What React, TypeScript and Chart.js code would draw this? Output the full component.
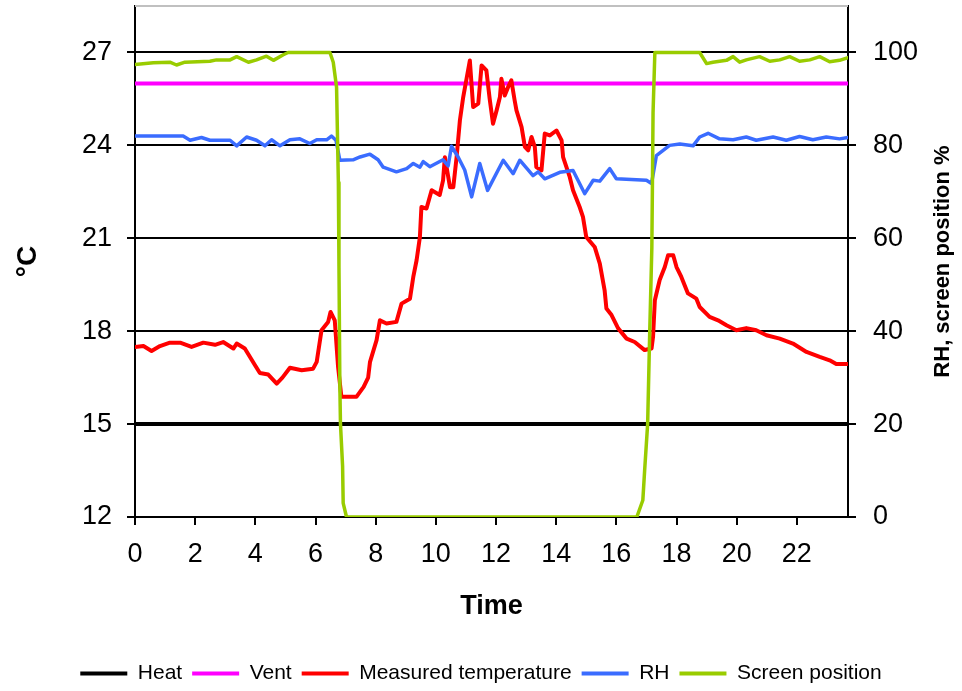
import React, { useEffect, useRef } from "react";
import { Chart, registerables } from "chart.js";

Chart.register(...registerables);

// Set points (constant over the day)
const heatHours = [0, 23.7];
const heatValues = [15, 15];
const ventHours = [0, 23.7];
const ventValues = [26, 26];

// Measured greenhouse temperature, °C
const tempHours = [
  0, 0.28, 0.55, 0.83, 1.16, 1.5, 1.88, 2.27, 2.66, 2.93, 3.27, 3.38, 3.65, 3.99, 4.15, 4.43, 4.71, 4.9,
  5.15, 5.54, 5.92, 6.04, 6.2, 6.42, 6.5, 6.64, 6.75, 6.86, 7.36, 7.6, 7.75, 7.81, 8.03, 8.14, 8.36, 8.69,
  8.86, 9.14, 9.25, 9.36, 9.47, 9.52, 9.69, 9.86, 10.13, 10.24, 10.3, 10.47, 10.58, 10.69, 10.8, 10.91,
  11.13, 11.24, 11.41, 11.52, 11.68, 11.79, 11.9, 12.02, 12.13, 12.18, 12.29, 12.4, 12.51, 12.62, 12.68,
  12.85, 12.96, 13.07, 13.18, 13.29, 13.34, 13.51, 13.62, 13.79, 14.01, 14.18, 14.23, 14.45, 14.56, 14.78,
  14.89, 15.0, 15.28, 15.45, 15.61, 15.67, 15.84, 16.06, 16.34, 16.61, 16.94, 17.17, 17.22, 17.28, 17.44,
  17.61, 17.72, 17.89, 18.0, 18.16, 18.38, 18.66, 18.77, 19.1, 19.38, 19.66, 19.99, 20.32, 20.65, 20.99,
  21.43, 21.87, 22.32, 22.76, 23.09, 23.31, 23.7,
];
const tempValues = [
  17.49, 17.52, 17.36, 17.52, 17.63, 17.63, 17.49, 17.63, 17.56, 17.65, 17.44, 17.6, 17.44, 16.9, 16.65,
  16.6, 16.31, 16.5, 16.82, 16.74, 16.79, 17.01, 18.03, 18.3, 18.62, 18.35, 16.85, 15.88, 15.88, 16.2,
  16.5, 17.0, 17.71, 18.35, 18.25, 18.3, 18.89, 19.05, 19.75, 20.29, 21.04, 22.01, 21.96, 22.55, 22.4,
  22.87, 23.62, 22.65, 22.65, 23.62, 24.81, 25.56, 26.74, 25.24, 25.35, 26.58, 26.42, 25.5, 24.7, 25.13,
  25.56, 26.15, 25.61, 25.88, 26.1, 25.45, 25.13, 24.59, 23.95, 23.84, 24.27, 23.95, 23.3, 23.19, 24.38,
  24.32, 24.48, 24.16, 23.62, 22.98, 22.55, 22.01, 21.69, 21.04, 20.72, 20.18, 19.32, 18.73, 18.52, 18.09,
  17.76, 17.65, 17.39, 17.44, 17.82, 19.0, 19.65, 20.07, 20.45, 20.45, 20.07, 19.75, 19.22, 19.05, 18.78,
  18.46, 18.35, 18.19, 18.03, 18.1, 18.03, 17.87, 17.76, 17.6, 17.33, 17.17, 17.06, 16.94, 16.94,
];

// Relative humidity, %
const rhHours = [
  0, 1.6, 1.83, 2.21, 2.49, 3.16, 3.38, 3.71, 4.04, 4.32, 4.54, 4.82, 5.15, 5.48, 5.81, 6.04, 6.37, 6.53,
  6.68, 6.81, 7.25, 7.48, 7.81, 8.08, 8.25, 8.69, 9.03, 9.25, 9.47, 9.58, 9.8, 10.24, 10.41, 10.52, 10.74,
  10.96, 11.19, 11.46, 11.72, 12.24, 12.57, 12.79, 13.23, 13.4, 13.62, 14.12, 14.56, 14.95, 15.23, 15.45,
  15.78, 16.0, 17.0, 17.17, 17.33, 17.77, 18.11, 18.55, 18.77, 19.05, 19.43, 19.88, 20.32, 20.65, 21.21,
  21.65, 22.09, 22.53, 22.98, 23.42, 23.7,
];
const rhValues = [
  82.0, 82.0, 81.1, 81.7, 81.1, 81.1, 79.9, 81.8, 81.1, 79.9, 81.2, 79.9, 81.2, 81.4, 80.4, 81.2, 81.2,
  82.0, 81.1, 76.8, 76.9, 77.5, 78.1, 76.9, 75.3, 74.3, 75.0, 76.1, 75.3, 76.5, 75.4, 76.9, 75.6, 79.8,
  77.5, 74.7, 68.9, 76.1, 70.3, 76.8, 73.9, 76.8, 73.5, 74.3, 72.8, 74.2, 74.6, 69.6, 72.5, 72.3, 75.0,
  72.8, 72.5, 71.8, 77.8, 80.0, 80.3, 79.9, 81.8, 82.6, 81.4, 81.2, 81.8, 81.1, 81.8, 81.1, 81.9, 81.2,
  81.8, 81.4, 81.7,
];

// Thermal screen position, % closed
const screenHours = [
  0, 0.61, 1.16, 1.38, 1.66, 2.49, 2.71, 3.16, 3.38, 3.77, 4.04, 4.37, 4.6, 4.93, 5.09, 6.48, 6.59, 6.7,
  6.76, 6.78, 6.81, 6.83, 6.9, 6.92, 7.03, 16.68, 16.88, 16.94, 17.04, 17.11, 17.18, 17.2, 17.22, 17.28,
  18.77, 19.0, 19.21, 19.66, 19.88, 20.1, 20.32, 20.76, 21.1, 21.43, 21.76, 22.09, 22.43, 22.76, 23.09,
  23.42, 23.7,
];
const screenValues = [
  97.4, 97.8, 97.9, 97.3, 97.9, 98.1, 98.4, 98.4, 99.1, 97.9, 98.4, 99.2, 98.3, 99.5, 100, 100, 97.9, 92.5,
  72, 54, 28, 20, 11, 3, 0, 0, 3.6, 10, 20, 40, 58, 72, 87, 100, 100, 97.6, 97.9, 98.3, 99.1, 97.9, 98.4,
  99.1, 98.1, 98.4, 99.1, 98.1, 98.4, 99.1, 98, 98.3, 98.9,
];

const FONT = "'Liberation Sans', Arial, sans-serif";

const toPoints = (xs: number[], ys: number[]) => xs.map((x, i) => ({ x, y: ys[i] }));

// Light frame along the top of the plot area and the rotated right-hand title
const decorations = {
  id: "decorations",
  beforeDatasetsDraw(chart: any) {
    const { ctx, chartArea } = chart;
    ctx.save();
    ctx.strokeStyle = "#c0c0c0";
    ctx.lineWidth = 2;
    ctx.beginPath();
    ctx.moveTo(chartArea.left, chartArea.top);
    ctx.lineTo(chartArea.right, chartArea.top);
    ctx.stroke();
    ctx.restore();
  },
  afterDraw(chart: any) {
    const { ctx, chartArea } = chart;
    const cy = (chartArea.top + chartArea.bottom) / 2;
    ctx.save();
    ctx.translate(943, cy);
    ctx.rotate(-Math.PI / 2);
    ctx.font = `bold 22px ${FONT}`;
    ctx.fillStyle = "#000";
    ctx.textAlign = "center";
    ctx.textBaseline = "middle";
    ctx.fillText("RH, screen position %", 0, 0);
    ctx.restore();
  },
};

const line = (label: string, xs: number[], ys: number[], color: string, width: number, axis: string, order: number) => ({
  label,
  data: toPoints(xs, ys),
  borderColor: color,
  backgroundColor: color,
  borderWidth: width,
  borderJoinStyle: "round",
  borderCapStyle: "round",
  yAxisID: axis,
  order,
});

export default function App() {
  const canvasRef = useRef<HTMLCanvasElement | null>(null);

  useEffect(() => {
    if (!canvasRef.current) return;
    const tickFont = { family: FONT, size: 27 };
    const chart = new Chart(canvasRef.current, {
      type: "line",
      data: {
        datasets: [
          line("Heat", heatHours, heatValues, "#000000", 4, "y", 5),
          line("Vent", ventHours, ventValues, "#ff00ff", 4, "y", 4),
          line("Measured temperature", tempHours, tempValues, "#ff0000", 4, "y", 3),
          line("RH", rhHours, rhValues, "#3a6cff", 3.5, "y2", 2),
          line("Screen position", screenHours, screenValues, "#99cc00", 3.5, "y2", 1),
        ],
      },
      options: {
        responsive: false,
        animation: false,
        devicePixelRatio: 1,
        elements: { point: { radius: 0 }, line: { tension: 0 } },
        layout: { padding: { left: 0, right: 0, top: 6, bottom: -3 } },
        plugins: {
          tooltip: { enabled: false },
          legend: {
            display: true,
            position: "bottom",
            labels: {
              font: { family: FONT, size: 21 },
              color: "#000",
              boxWidth: 47,
              boxHeight: 4,
              padding: 10,
              sort: (a: any, b: any) => a.datasetIndex - b.datasetIndex,
              generateLabels: (c: any) =>
                Chart.defaults.plugins.legend.labels.generateLabels(c).map((item: any) => ({
                  ...item,
                  fillStyle: item.strokeStyle,
                  lineWidth: 0,
                })),
            },
          },
        },
        scales: {
          x: {
            type: "linear",
            min: 0,
            max: 23.7,
            afterFit: (s: any) => {
              s.height = 136;
              s.paddingLeft = 0;
              s.paddingRight = 0;
            },
            ticks: {
              stepSize: 2,
              includeBounds: false,
              autoSkip: false,
              maxRotation: 0,
              padding: 13,
              color: "#000",
              font: tickFont,
            },
            grid: { drawOnChartArea: false, color: "#000", lineWidth: 2, tickLength: 8 },
            border: { color: "#000", width: 2 },
            title: {
              display: true,
              text: "Time",
              color: "#000",
              font: { family: FONT, size: 27, weight: "bold" },
              padding: { top: 0, bottom: 30 },
            },
          },
          y: {
            type: "linear",
            position: "left",
            min: 12,
            max: 28.5,
            afterFit: (s: any) => {
              s.width = 135;
              s.paddingTop = 0;
              s.paddingBottom = 0;
            },
            ticks: { stepSize: 3, includeBounds: false, padding: 15, color: "#000", font: tickFont },
            grid: { color: "#000", lineWidth: 2, tickLength: 8 },
            border: { color: "#000", width: 2 },
            title: {
              display: true,
              text: "°C",
              color: "#000",
              font: { family: FONT, size: 28, weight: "bold" },
              padding: { top: 11, bottom: 0 },
            },
          },
          y2: {
            type: "linear",
            position: "right",
            min: 0,
            max: 110,
            afterFit: (s: any) => {
              s.width = 114;
              s.paddingTop = 0;
              s.paddingBottom = 0;
            },
            ticks: { stepSize: 20, includeBounds: false, padding: 17, color: "#000", font: tickFont },
            grid: { drawOnChartArea: false, color: "#000", lineWidth: 2, tickLength: 8 },
            border: { color: "#000", width: 2 },
          },
        },
      },
      plugins: [decorations],
    } as any);
    return () => chart.destroy();
  }, []);

  return (
    <div style={{ position: "absolute", left: 0, top: 0, width: 962, height: 691, background: "#fff" }}>
      <canvas ref={canvasRef} width={962} height={691} />
    </div>
  );
}
